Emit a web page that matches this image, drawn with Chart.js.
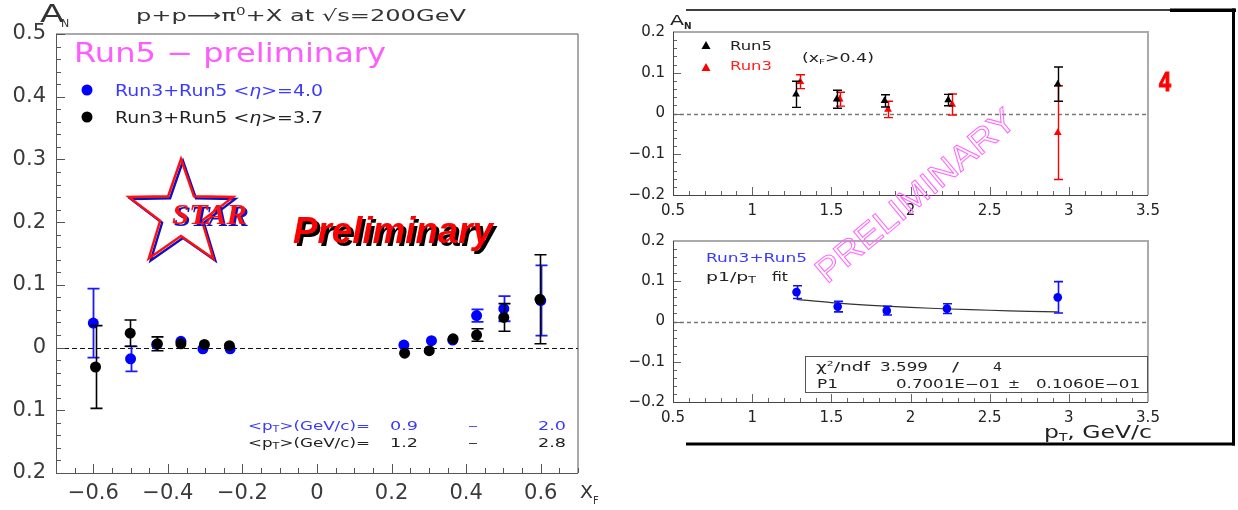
<!DOCTYPE html>
<html>
<head>
<meta charset="utf-8">
<title>A_N for p+p -> pi0 + X at 200 GeV</title>
<script src="https://cdn.jsdelivr.net/npm/chart.js@4.4.1/dist/chart.umd.min.js"></script>
<style>
  body { margin: 0; background: #fff; }
  #page { position: relative; width: 1238px; height: 510px; overflow: hidden; background: #fff; }
  #page canvas { position: absolute; }
  #overlay { position: absolute; left: 0; top: 0; pointer-events: none; font-family: 'DejaVu Sans', sans-serif; }
</style>
</head>
<body>
<div id="page">
  <canvas id="xfChart" width="620" height="510" style="left:0;top:0"></canvas>
  <canvas id="ptChart" width="618" height="230" style="left:620px;top:0"></canvas>
  <canvas id="fitChart" width="618" height="280" style="left:620px;top:230px"></canvas>

  <svg id="overlay" width="1238" height="510" xmlns="http://www.w3.org/2000/svg">
    <!-- left panel labels -->
    <text x="40" y="22" font-size="24" textLength="24" lengthAdjust="spacingAndGlyphs" fill="#333">A</text>
    <text x="61" y="27" font-size="11" fill="#333">N</text>
    <text x="136" y="21" font-size="16" textLength="330" lengthAdjust="spacingAndGlyphs" fill="#333">p+p⟶π<tspan font-size="10" dy="-6">0</tspan><tspan dy="6">+X at √s=200GeV</tspan></text>
    <text x="74" y="62" font-size="26" textLength="312" lengthAdjust="spacingAndGlyphs" fill="#ff5cff">Run5 − preliminary</text>

    <circle cx="87" cy="90" r="5.5" fill="#0000ff"/>
    <text x="115" y="96" font-size="15" textLength="208" lengthAdjust="spacingAndGlyphs" fill="#3a3aff">Run3+Run5 &lt;<tspan font-style="italic">η</tspan>&gt;=4.0</text>
    <circle cx="87" cy="117" r="5.5" fill="#000"/>
    <text x="115" y="123" font-size="15" textLength="208" lengthAdjust="spacingAndGlyphs" fill="#222">Run3+Run5 &lt;<tspan font-style="italic">η</tspan>&gt;=3.7</text>

    <!-- STAR logo -->
    <polygon id="starBlue" fill="none" stroke="#1010c0" stroke-width="2.4"/>
    <polygon id="starRed" fill="none" stroke="#ff1010" stroke-width="2.4"/>
    <text x="174" y="226" font-family="Liberation Serif" font-weight="bold" font-style="italic" font-size="30" textLength="75" lengthAdjust="spacingAndGlyphs" fill="#1010c0">STAR</text>
    <text x="172" y="224" font-family="Liberation Serif" font-weight="bold" font-style="italic" font-size="30" textLength="75" lengthAdjust="spacingAndGlyphs" fill="#ff1010">STAR</text>

    <text x="296" y="246" font-family="Liberation Sans" font-weight="bold" font-style="italic" font-size="36" textLength="200" lengthAdjust="spacingAndGlyphs" fill="#000">Preliminary</text>
    <text x="293" y="243" font-family="Liberation Sans" font-weight="bold" font-style="italic" font-size="36" textLength="200" lengthAdjust="spacingAndGlyphs" fill="#ff0000">Preliminary</text>

    <text x="248" y="429.5" font-size="12" textLength="122" lengthAdjust="spacingAndGlyphs" fill="#3a3aff">&lt;p<tspan font-size="8" dy="2">T</tspan><tspan dy="-2">&gt;(GeV/c)=</tspan></text>
    <text x="390" y="429.5" font-size="12" textLength="28" lengthAdjust="spacingAndGlyphs" fill="#3a3aff">0.9</text>
    <text x="468" y="429.5" font-size="12" textLength="10" lengthAdjust="spacingAndGlyphs" fill="#3a3aff">–</text>
    <text x="538" y="429.5" font-size="12" textLength="28" lengthAdjust="spacingAndGlyphs" fill="#3a3aff">2.0</text>
    <text x="248" y="446.5" font-size="12" textLength="122" lengthAdjust="spacingAndGlyphs" fill="#222">&lt;p<tspan font-size="8" dy="2">T</tspan><tspan dy="-2">&gt;(GeV/c)=</tspan></text>
    <text x="390" y="446.5" font-size="12" textLength="28" lengthAdjust="spacingAndGlyphs" fill="#222">1.2</text>
    <text x="468" y="446.5" font-size="12" textLength="10" lengthAdjust="spacingAndGlyphs" fill="#222">–</text>
    <text x="538" y="446.5" font-size="12" textLength="28" lengthAdjust="spacingAndGlyphs" fill="#222">2.8</text>

    <text x="580" y="498" font-size="17" textLength="13" lengthAdjust="spacingAndGlyphs" fill="#333">X</text>
    <text x="593" y="504" font-size="10" fill="#333">F</text>

    <!-- right frame -->
    <line x1="686" y1="10" x2="1170" y2="10" stroke="#000" stroke-width="1.5"/>
    <rect x="1170" y="8.5" width="66" height="3.5" fill="#000"/>
    <rect x="1232" y="8.5" width="3" height="437" fill="#000"/>
    <rect x="686" y="442.5" width="549" height="3" fill="#000"/>

    <!-- right top panel labels -->
    <text x="670" y="25" font-size="14" textLength="14" lengthAdjust="spacingAndGlyphs" fill="#222">A</text>
    <text x="684" y="29" font-size="9" font-weight="bold" fill="#222">N</text>
    <polygon points="701.5,49 710.5,49 706,41" fill="#000"/>
    <text x="730" y="50" font-size="12" textLength="42" lengthAdjust="spacingAndGlyphs" fill="#222">Run5</text>
    <polygon points="701.5,71 710.5,71 706,63" fill="#ff0000"/>
    <text x="730" y="70" font-size="12" textLength="42" lengthAdjust="spacingAndGlyphs" fill="#ff2020">Run3</text>
    <text x="802" y="62" font-size="12" textLength="72" lengthAdjust="spacingAndGlyphs" fill="#222">(x<tspan font-size="7" dy="2">F</tspan><tspan dy="-2">&gt;0.4)</tspan></text>
    <text x="1159" y="90.5" font-family="Liberation Sans" font-weight="bold" font-size="27" textLength="12" lengthAdjust="spacingAndGlyphs" fill="#ff0000" stroke="#ff0000" stroke-width="1.2">4</text>

    <!-- right bottom panel labels -->
    <text x="706" y="261.5" font-size="12" textLength="101" lengthAdjust="spacingAndGlyphs" fill="#3a3aff">Run3+Run5</text>
    <text x="706" y="281" font-size="12" textLength="50" lengthAdjust="spacingAndGlyphs" fill="#222">p1/p<tspan font-size="8" dy="2">T</tspan></text>
    <text x="772" y="281" font-size="12" textLength="16" lengthAdjust="spacingAndGlyphs" fill="#222">fit</text>

    <rect x="805.5" y="356.5" width="342" height="36" fill="#fff" stroke="#555" stroke-width="1"/>
    <text x="816" y="371" font-size="12" textLength="54" lengthAdjust="spacingAndGlyphs" fill="#222">χ<tspan font-size="7" dy="-5">2</tspan><tspan dy="5">/ndf</tspan></text>
    <text x="880" y="371" font-size="12" textLength="48" lengthAdjust="spacingAndGlyphs" fill="#222">3.599</text>
    <text x="952" y="371" font-size="12" textLength="7" lengthAdjust="spacingAndGlyphs" fill="#222">/</text>
    <text x="993" y="371" font-size="13" textLength="9" lengthAdjust="spacingAndGlyphs" fill="#222">4</text>
    <text x="817" y="388" font-size="12" textLength="21" lengthAdjust="spacingAndGlyphs" fill="#222">P1</text>
    <text x="896" y="388" font-size="12" textLength="104" lengthAdjust="spacingAndGlyphs" fill="#222">0.7001E−01</text>
    <text x="1008" y="388" font-size="12" textLength="12" lengthAdjust="spacingAndGlyphs" fill="#222">±</text>
    <text x="1036" y="388" font-size="12" textLength="104" lengthAdjust="spacingAndGlyphs" fill="#222">0.1060E−01</text>

    <text x="1044" y="438" font-size="17" textLength="108" lengthAdjust="spacingAndGlyphs" fill="#222">p<tspan font-size="10" dy="3">T</tspan><tspan dy="-3">, GeV/c</tspan></text>

    <!-- watermark -->
    <text x="915" y="195" text-anchor="middle" dominant-baseline="central" font-family="Liberation Sans" font-size="34" textLength="250" lengthAdjust="spacingAndGlyphs" fill="none" stroke="#ff66ff" stroke-width="1" transform="rotate(-40 915 195)">PRELIMINARY</text>
  </svg>
</div>

<script>
// ---- values ----

// left panel: A_N vs x_F, <eta>=4.0 (blue) and <eta>=3.7 (black)
const xfEta40  = [-0.60, -0.50, -0.43, -0.365, -0.306, -0.233, 0.233, 0.307, 0.364, 0.428, 0.501, 0.600];
const anEta40  = [0.039, -0.018, 0.005, 0.010, -0.002, -0.002, 0.004, 0.011, 0.012, 0.051, 0.062, 0.075];
const errEta40 = [0.055, 0.020, 0.004, 0.004, 0.004, 0.004, 0.004, 0.004, 0.004, 0.010, 0.020, 0.056];
const xfEta37  = [-0.594, -0.501, -0.428, -0.365, -0.302, -0.235, 0.235, 0.301, 0.365, 0.428, 0.501, 0.598];
const anEta37  = [-0.031, 0.023, 0.006, 0.006, 0.005, 0.003, -0.009, -0.005, 0.014, 0.020, 0.048, 0.077];
const errEta37 = [0.066, 0.021, 0.011, 0.004, 0.004, 0.004, 0.004, 0.004, 0.004, 0.010, 0.022, 0.071];

// right top: A_N vs pT for x_F > 0.4
const ptRun5  = [1.277, 1.534, 1.836, 2.238, 2.93];
const anRun5  = [0.047, 0.035, 0.031, 0.033, 0.072];
const errRun5 = [0.032, 0.022, 0.015, 0.014, 0.042];
const ptRun3  = [1.304, 1.553, 1.858, 2.263, 2.93];
const anRun3  = [0.078, 0.035, 0.010, 0.022, -0.047];
const errRun3 = [0.017, 0.017, 0.020, 0.026, 0.115];

// right bottom: Run3+Run5 combined with the p1/pT fit curve
const ptComb  = [1.28, 1.54, 1.85, 2.23, 2.93];
const anComb  = [0.073, 0.037, 0.027, 0.032, 0.060];
const errComb = [0.016, 0.013, 0.011, 0.012, 0.039];
const fitPt   = [1.28, 1.5, 1.75, 2.0, 2.25, 2.5, 2.75, 2.93];
const fitAn   = [0.055, 0.047, 0.040, 0.035, 0.031, 0.028, 0.025, 0.024];

// tick labels
const xfTicks = [-0.6, -0.4, -0.2, 0, 0.2, 0.4, 0.6];
const anTicksLeft = [0.5, 0.4, 0.3, 0.2, 0.1, 0, -0.1, -0.2];
const ptTicks = [0.5, 1, 1.5, 2, 2.5, 3, 3.5];
const anTicksRight = [0.2, 0.1, 0, -0.1, -0.2];


// draw the STAR logo outline
function starPoints(cx, cy, R, r) {
    const pts = [];
    for (let k = 0; k < 10; k++) {
        const a = -Math.PI / 2 + k * Math.PI / 5;
        const rad = k % 2 === 0 ? R : r;
        pts.push((cx + rad * Math.cos(a)).toFixed(1) + ',' + (cy + rad * Math.sin(a)).toFixed(1));
    }
    return pts.join(' ');
}
document.getElementById('starBlue').setAttribute('points', starPoints(183, 216, 55, 22));
document.getElementById('starRed').setAttribute('points', starPoints(181, 214, 55, 22));


const toPoints = (xs, ys) => xs.map((x, i) => ({ x: x, y: ys[i] }));
const minusSign = v => (v < 0 ? '\u2212' : '') + Math.abs(v);

// ROOT-like frame: inward tick marks, dashed zero line, box
const rootFrame = {
    id: 'rootFrame',
    beforeDatasetsDraw(chart, args, o) {
        const ctx = chart.ctx;
        const a = chart.chartArea;
        const xs = chart.scales.x, ys = chart.scales.y;
        const isMajor = (v, step) => Math.abs(v / step - Math.round(v / step)) < 1e-6;
        ctx.save();

        // dashed zero line
        const y0 = Math.round(ys.getPixelForValue(0)) + 0.5;
        ctx.setLineDash(o.zeroDash);
        ctx.strokeStyle = o.zeroColor;
        ctx.lineWidth = o.zeroWidth;
        ctx.beginPath();
        ctx.moveTo(a.left, y0);
        ctx.lineTo(a.right, y0);
        ctx.stroke();
        ctx.setLineDash([]);

        // tick marks pointing into the plot
        ctx.strokeStyle = o.tickColor;
        ctx.lineWidth = 1;
        ctx.beginPath();
        let n = Math.round((xs.max - xs.min) / o.xMinor);
        for (let i = 0; i <= n; i++) {
            const v = xs.min + i * o.xMinor;
            const px = Math.round(xs.getPixelForValue(v)) + 0.5;
            const len = isMajor(v, o.xMajor) ? o.majorLen : o.minorLen;
            ctx.moveTo(px, a.bottom);
            ctx.lineTo(px, a.bottom - len);
        }
        n = Math.round((ys.max - ys.min) / o.yMinor);
        for (let i = 0; i <= n; i++) {
            const v = ys.min + i * o.yMinor;
            const py = Math.round(ys.getPixelForValue(v)) + 0.5;
            const len = isMajor(v, o.yMajor) ? o.majorLen : o.minorLen;
            ctx.moveTo(a.left, py);
            ctx.lineTo(a.left + len, py);
        }
        ctx.stroke();

        // box: axes on left/bottom, lighter edge on top/right
        ctx.strokeStyle = o.boxColor;
        ctx.lineWidth = o.boxWidth;
        ctx.beginPath();
        ctx.moveTo(a.left, a.top);
        ctx.lineTo(a.right, a.top);
        ctx.lineTo(a.right, a.bottom);
        ctx.stroke();
        ctx.strokeStyle = o.axisColor;
        ctx.lineWidth = 1;
        ctx.beginPath();
        ctx.moveTo(Math.round(a.left) + 0.5, a.top);
        ctx.lineTo(Math.round(a.left) + 0.5, Math.round(a.bottom) + 0.5);
        ctx.lineTo(a.right, Math.round(a.bottom) + 0.5);
        ctx.stroke();
        ctx.restore();
    }
};

// vertical error bars, drawn just under each dataset's markers
const errorBars = {
    id: 'errorBars',
    beforeDatasetDraw(chart, args) {
        const ds = chart.data.datasets[args.index];
        if (!ds.errY) return;
        const ctx = chart.ctx;
        const ys = chart.scales.y;
        ctx.save();
        ctx.strokeStyle = ds.barColor;
        ctx.lineWidth = ds.barWidth;
        args.meta.data.forEach((pt, i) => {
            const v = ds.data[i].y, e = ds.errY[i];
            const top = ys.getPixelForValue(v + e);
            const bot = ys.getPixelForValue(v - e);
            // like ROOT, nothing is drawn when the bar hides inside the marker
            if ((bot - top) / 2 <= ds.pointRadius) return;
            const cx = Math.round(pt.x) + 0.5;
            ctx.beginPath();
            ctx.moveTo(cx, top);
            ctx.lineTo(cx, bot);
            ctx.moveTo(cx - ds.capW, top);
            ctx.lineTo(cx + ds.capW, top);
            ctx.moveTo(cx - ds.capW, bot);
            ctx.lineTo(cx + ds.capW, bot);
            ctx.stroke();
        });
        ctx.restore();
    }
};

function panelOptions(p) {
    return {
        responsive: false,
        animation: false,
        events: [],
        layout: { padding: p.padding },
        plugins: {
            legend: { display: false },
            tooltip: { enabled: false },
            rootFrame: p.frame
        },
        scales: {
            x: {
                type: 'linear',
                min: p.xMin,
                max: p.xMax,
                grid: { display: false, drawTicks: false },
                border: { display: false },
                afterBuildTicks: s => { s.ticks = p.xTicks.map(v => ({ value: v })); },
                afterFit: s => { s.height = p.xHeight; s.paddingLeft = 0; s.paddingRight = 0; },
                ticks: {
                    font: { family: 'DejaVu Sans', size: p.fontSize },
                    color: p.tickColor,
                    padding: p.xPad,
                    maxRotation: 0,
                    autoSkip: false,
                    callback: p.xFmt
                }
            },
            y: {
                type: 'linear',
                min: p.yMin,
                max: p.yMax,
                grid: { display: false, drawTicks: false },
                border: { display: false },
                afterBuildTicks: s => { s.ticks = p.yTicks.map(v => ({ value: v })); },
                afterFit: s => { s.width = p.yWidth; s.paddingTop = 0; s.paddingBottom = 0; },
                ticks: {
                    font: { family: 'DejaVu Sans', size: p.fontSize },
                    color: p.tickColor,
                    padding: p.yPad,
                    autoSkip: false,
                    callback: p.yFmt
                }
            }
        }
    };
}

// Left panel: A_N vs x_F
new Chart(document.getElementById('xfChart').getContext('2d'), {
    type: 'scatter',
    data: {
        datasets: [
            {
                label: 'Run3+Run5 <eta>=3.7',
                data: toPoints(xfEta37, anEta37),
                errY: errEta37, barColor: '#000', barWidth: 1.6, capW: 6,
                pointRadius: 5.5, pointBackgroundColor: '#000', pointBorderWidth: 0,
                order: 0
            },
            {
                label: 'Run3+Run5 <eta>=4.0',
                data: toPoints(xfEta40, anEta40),
                errY: errEta40, barColor: '#1a1aff', barWidth: 1.8, capW: 6,
                pointRadius: 5.5, pointBackgroundColor: '#0000ff', pointBorderWidth: 0,
                order: 1
            }
        ]
    },
    options: panelOptions({
        padding: { top: 34, right: 42, left: 0, bottom: 0 },
        xMin: -0.7, xMax: 0.7, yMin: -0.2, yMax: 0.5,
        xTicks: xfTicks, yTicks: anTicksLeft,
        xHeight: 37, yWidth: 56, xPad: 8, yPad: 10,
        fontSize: 21, tickColor: '#3a3a3a',
        xFmt: v => v === 0 ? '0' : minusSign(v),
        yFmt: v => v === 0 ? '0' : Math.abs(v).toFixed(1),  // the original drops the minus sign
        frame: {
            zeroDash: [5, 3], zeroColor: '#111', zeroWidth: 1,
            tickColor: '#555', xMinor: 0.05, xMajor: 0.2, yMinor: 0.02, yMajor: 0.1,
            majorLen: 9, minorLen: 5,
            boxColor: '#555', boxWidth: 1, axisColor: '#555'
        }
    }),
    plugins: [rootFrame, errorBars]
});

const rightFrame = {
    zeroDash: [4, 3], zeroColor: '#777', zeroWidth: 1.5,
    tickColor: '#666', xMinor: 0.1, xMajor: 0.5, yMinor: 0.02, yMajor: 0.1,
    majorLen: 8, minorLen: 4,
    boxColor: '#aaa', boxWidth: 2, axisColor: '#444'
};

// Right top: Run5 and Run3 A_N vs pT
new Chart(document.getElementById('ptChart').getContext('2d'), {
    type: 'scatter',
    data: {
        datasets: [
            {
                label: 'Run5',
                data: toPoints(ptRun5, anRun5),
                errY: errRun5, barColor: '#000', barWidth: 1.4, capW: 4.5,
                pointStyle: 'triangle', pointRadius: 4.5,
                pointBackgroundColor: '#000', pointBorderWidth: 0,
                order: 0
            },
            {
                label: 'Run3',
                data: toPoints(ptRun3, anRun3),
                errY: errRun3, barColor: '#ff0000', barWidth: 1.4, capW: 4.5,
                pointStyle: 'triangle', pointRadius: 4.5,
                pointBackgroundColor: '#ff0000', pointBorderWidth: 0,
                order: 1
            }
        ]
    },
    options: panelOptions({
        padding: { top: 32, right: 90, left: 0, bottom: 0 },
        xMin: 0.5, xMax: 3.5, yMin: -0.2, yMax: 0.2,
        xTicks: ptTicks, yTicks: anTicksRight,
        xHeight: 35, yWidth: 53, xPad: 7, yPad: 8,
        fontSize: 15, tickColor: '#222',
        xFmt: v => String(v),
        yFmt: v => v === 0 ? '0' : minusSign(v),
        frame: rightFrame
    }),
    plugins: [rootFrame, errorBars]
});

// Right bottom: combined points with p1/pT fit
new Chart(document.getElementById('fitChart').getContext('2d'), {
    type: 'scatter',
    data: {
        datasets: [
            {
                label: 'Run3+Run5',
                data: toPoints(ptComb, anComb),
                errY: errComb, barColor: '#1010ff', barWidth: 1.6, capW: 4.5,
                pointRadius: 4.3, pointBackgroundColor: '#0000ff', pointBorderWidth: 0,
                order: 0
            },
            {
                label: 'p1/pT fit',
                data: toPoints(fitPt, fitAn),
                showLine: true, borderColor: '#333', borderWidth: 1.2,
                pointRadius: 0, tension: 0.3,
                order: 1
            }
        ]
    },
    options: panelOptions({
        padding: { top: 11, right: 90, left: 0, bottom: 0 },
        xMin: 0.5, xMax: 3.5, yMin: -0.2, yMax: 0.2,
        xTicks: ptTicks, yTicks: anTicksRight,
        xHeight: 108, yWidth: 53, xPad: 7, yPad: 8,
        fontSize: 15, tickColor: '#222',
        xFmt: v => String(v),
        yFmt: v => v === 0 ? '0' : minusSign(v),
        frame: rightFrame
    }),
    plugins: [rootFrame, errorBars]
});
</script>
</body>
</html>
